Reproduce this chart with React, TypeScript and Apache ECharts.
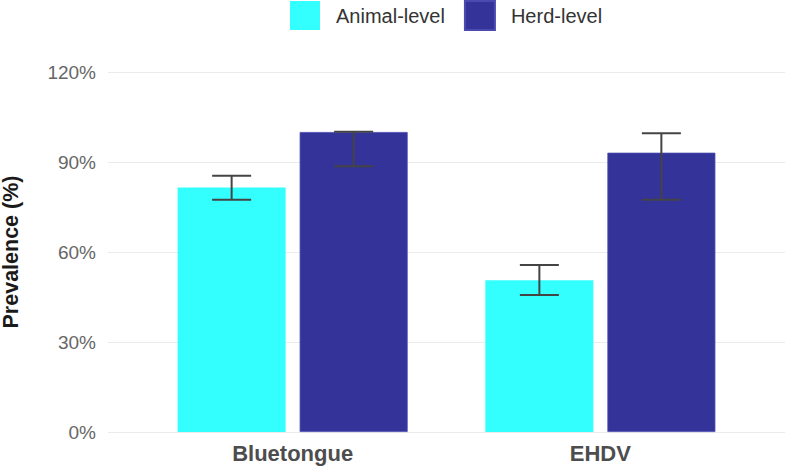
import React, { useEffect, useRef } from "react";
import * as echarts from "echarts";

const categories = ["Bluetongue", "EHDV"];
const seriesNames = ["Animal-level", "Herd-level"];
const animalValues = [81.5, 50.6];
const herdValues = [100, 93.1];
const animalLow = [77.4, 45.7];
const animalHigh = [85.4, 55.7];
const herdLow = [88.6, 77.4];
const herdHigh = [100.1, 99.6];
const yTicks = [0, 30, 60, 90, 120];

const COLORS = ["#33FFFF", "#333399"];
const BAR_W = 108;
const BAR_GAP = 14;

export default function App() {
  const ref = useRef<HTMLDivElement>(null);
  useEffect(() => {
    if (!ref.current) return;
    const chart = echarts.init(ref.current, null, { renderer: "svg" });
    const pos = categories.map((_, i) => i + 1);
    const errData: number[][] = [];
    categories.forEach((_, i) => {
      errData.push([pos[i], animalLow[i], animalHigh[i], -1]);
      errData.push([pos[i], herdLow[i], herdHigh[i], 1]);
    });
    const offset = (BAR_W + BAR_GAP) / 2;
    chart.setOption({
      animation: false,
      backgroundColor: "#ffffff",
      textStyle: { fontFamily: "Liberation Sans, Arial, sans-serif" },
      legend: {
        left: 290,
        top: 0,
        padding: 0,
        itemWidth: 30,
        itemHeight: 29,
        itemGap: 19,
        icon: "rect",
        data: seriesNames,
        textStyle: { fontSize: 20, color: "#333333", padding: [0, 0, 0, 11] },
      },
      grid: { left: 108, right: 1, top: 72, bottom: 34, outerBoundsMode: "none", containLabel: false },
      xAxis: {
        type: "value",
        min: 0.4,
        max: 2.6,
        axisLine: { show: false },
        axisTick: { show: false },
        splitLine: { show: false },
        axisLabel: {
          customValues: pos,
          formatter: (v: number) => categories[Math.round(v) - 1] ?? "",
          fontSize: 22,
          fontWeight: "bold",
          color: "#4d4d4d",
          margin: 10,
        },
      },
      yAxis: {
        type: "value",
        min: yTicks[0],
        max: yTicks[yTicks.length - 1],
        interval: 30,
        name: "Prevalence (%)",
        nameLocation: "middle",
        nameGap: 86,
        nameTextStyle: { fontSize: 21.5, fontWeight: "bold", color: "#1a1a1a" },
        axisLine: { show: false },
        axisTick: { show: false },
        axisLabel: { formatter: "{value}%", fontSize: 19, color: "#666666", margin: 12 },
        splitLine: { lineStyle: { color: "#ebebeb", width: 1 } },
      },
      series: [
        {
          name: seriesNames[0],
          type: "bar",
          barWidth: BAR_W,
          barGap: ((BAR_GAP / BAR_W) * 100).toFixed(1) + "%",
          itemStyle: { color: COLORS[0] },
          data: pos.map((p, i) => [p, animalValues[i]]),
        },
        {
          name: seriesNames[1],
          type: "bar",
          barWidth: BAR_W,
          itemStyle: { color: COLORS[1], borderColor: "#4a4ab0", borderWidth: 0.8 },
          data: pos.map((p, i) => [p, herdValues[i]]),
        },
        {
          type: "custom",
          z: 10,
          encode: { x: 0, y: [1, 2] },
          data: errData,
          renderItem: (params: any, api: any) => {
            const lo = api.coord([api.value(0), api.value(1)]);
            const hi = api.coord([api.value(0), api.value(2)]);
            const x = lo[0] + api.value(3) * offset;
            const half = 19.5;
            const style = { stroke: "#444444", lineWidth: 2 };
            return {
              type: "group",
              children: [
                { type: "line", shape: { x1: x, y1: lo[1], x2: x, y2: hi[1] }, style },
                { type: "line", shape: { x1: x - half, y1: lo[1], x2: x + half, y2: lo[1] }, style },
                { type: "line", shape: { x1: x - half, y1: hi[1], x2: x + half, y2: hi[1] }, style },
              ],
            };
          },
        },
      ],
    });
    return () => chart.dispose();
  }, []);
  return <div ref={ref} style={{ width: 786, height: 466, position: "absolute", left: 0, top: 0 }} />;
}
